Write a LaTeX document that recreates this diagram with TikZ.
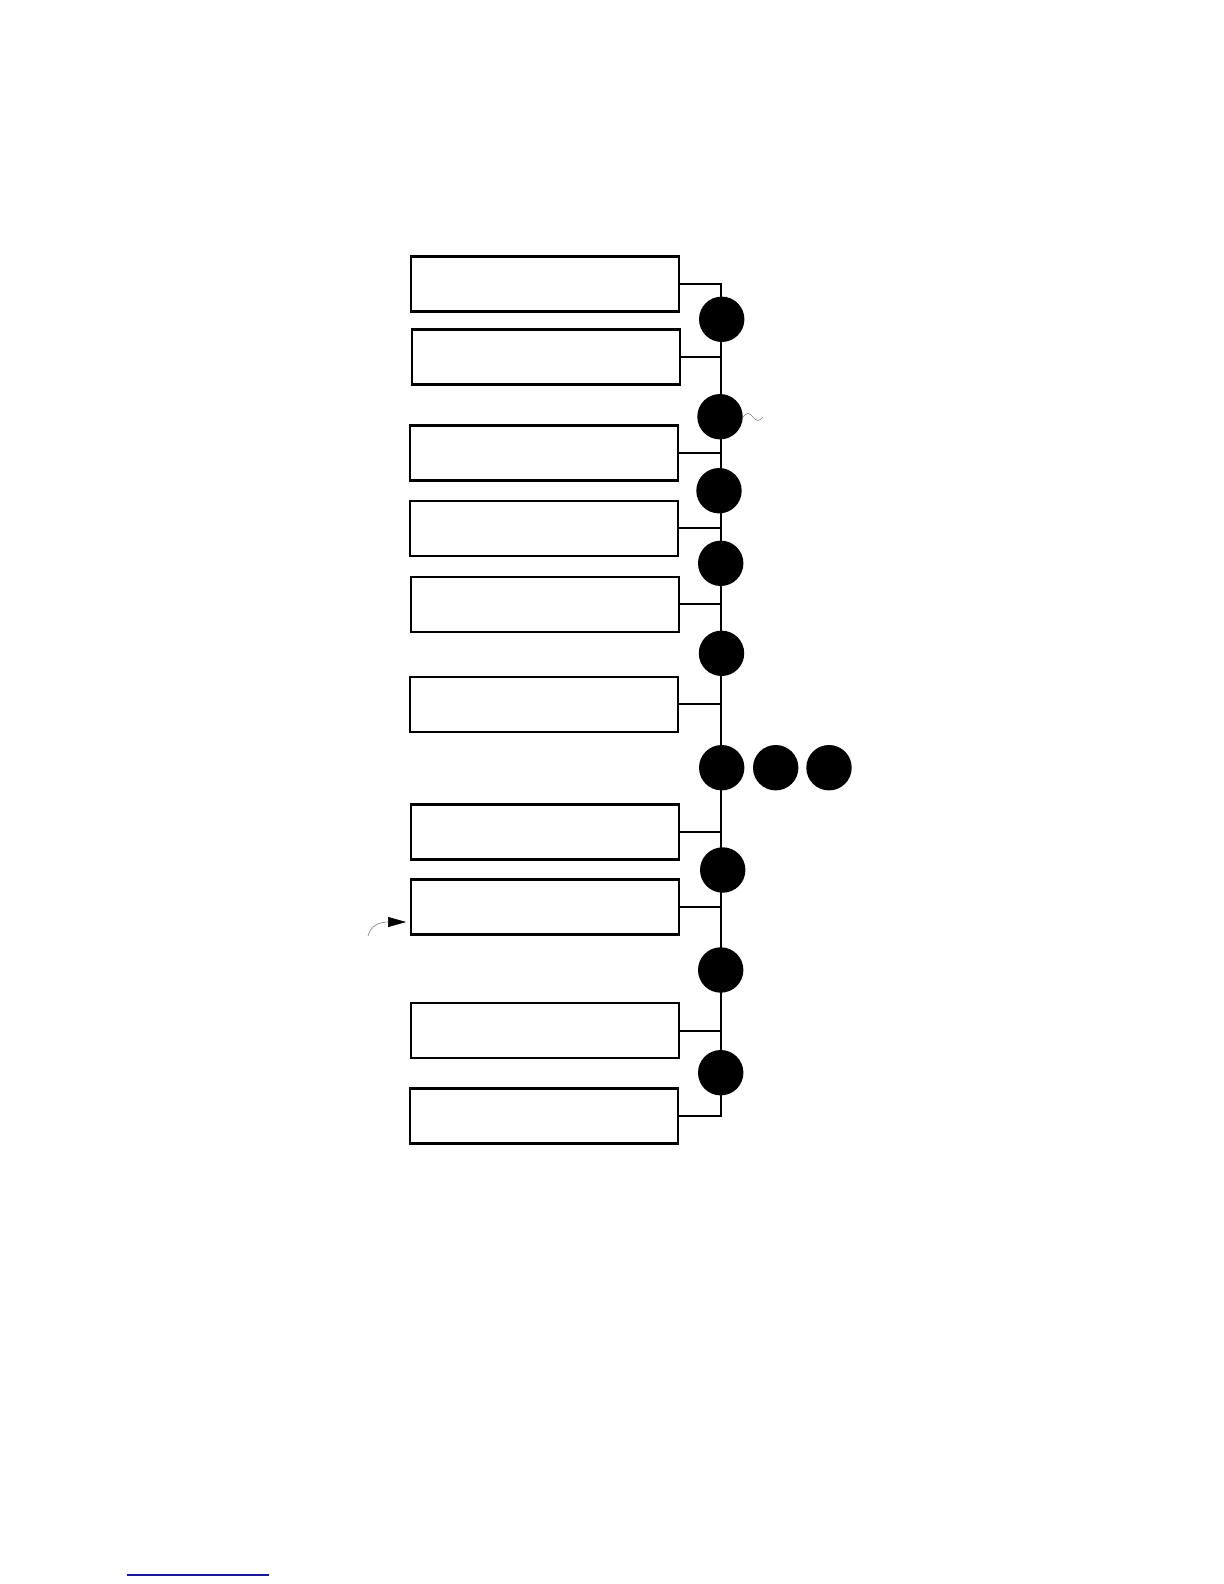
\documentclass[tikz,border=0pt]{standalone}
\usepackage{xcolor}
\usepackage{tikz}
\usetikzlibrary{arrows.meta}
\definecolor{linkblue}{RGB}{24,24,150}

\begin{document}
\begin{tikzpicture}[line cap=butt,line join=miter,x=0.5pt,y=-0.5pt,
  stepbox/.style={draw=black,line width=1.1pt,rectangle,minimum width=134pt,minimum height=27.5pt,inner sep=0pt},
  dot/.style={circle,fill=black,minimum size=22.7pt,inner sep=0pt},
  bus/.style={line width=1pt}]
\useasboundingbox (0,0) rectangle (1224,1584);
% boxes on the left
\node[stepbox] (b1) at (545,284) {};
\node[stepbox] (b2) at (546,357) {};
\node[stepbox] (b3) at (544,453) {};
\node[stepbox] (b4) at (544,528.3) {};
\node[stepbox] (b5) at (545,604.2) {};
\node[stepbox] (b6) at (544,704.3) {};
\node[stepbox] (b7) at (545,832) {};
\node[stepbox] (b8) at (545,907) {};
\node[stepbox] (b9) at (545,1030.5) {};
\node[stepbox] (b10) at (544,1116) {};
% the bus
\coordinate (bot) at (721,1116);
\draw[bus] (b1.east) -| (bot) -- (b10.east);
\draw[bus] (b2.east) -- (b2.east -| bot);
\draw[bus] (b3.east) -- (b3.east -| bot);
\draw[bus] (b4.east) -- (b4.east -| bot);
\draw[bus] (b5.east) -- (b5.east -| bot);
\draw[bus] (b6.east) -- (b6.east -| bot);
\draw[bus] (b7.east) -- (b7.east -| bot);
\draw[bus] (b8.east) -- (b8.east -| bot);
\draw[bus] (b9.east) -- (b9.east -| bot);
% dots on the bus
\node[dot] (c1) at (721.7,319.3) {};
\node[dot] (c2) at (720,416.7) {};
\node[dot] (c3) at (719,490.7) {};
\node[dot] (c4) at (720.7,563.3) {};
\node[dot] (c5) at (721.5,653.3) {};
\node[dot] (c6) at (721.7,767.7) {};
\node[dot] (c7) at (775.7,767.7) {};
\node[dot] (c8) at (829,767.7) {};
\node[dot] (c9) at (722.7,870) {};
\node[dot] (c10) at (720.7,970) {};
\node[dot] (c11) at (720.7,1072.7) {};
% small marks
\draw[gray,line width=0.3pt] (743,417) sin (748,413.5) cos (753,417) sin (758,420.5) cos (763,417);
\coordinate (tip) at (406,922);
\draw[gray,line width=0.3pt,-{Triangle[length=9pt,width=5pt,black]}] (368,936) .. controls (371,925) and (380,922) .. (tip);
\draw[linkblue,line width=0.6pt] (127,1575) -- (269,1575);
\end{tikzpicture}
\end{document}
